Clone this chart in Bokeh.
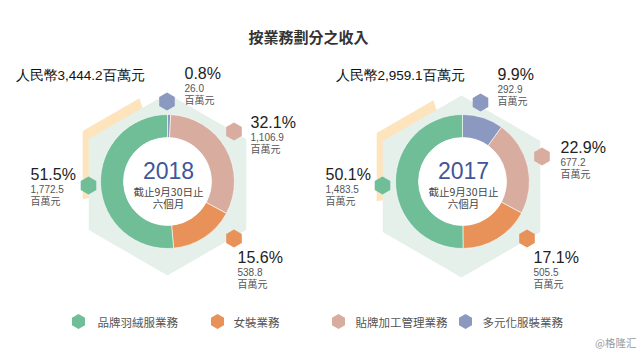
import numpy as np
from bokeh.plotting import figure
from bokeh.models import Range1d, ColumnDataSource
from bokeh.core.properties import value
from bokeh.embed import file_html
from bokeh.resources import INLINE

# ---------------- data ----------------
title = "按業務劃分之收入"
categories = ["品牌羽絨服業務", "女裝業務", "貼牌加工管理業務", "多元化服裝業務"]
years = ["2018", "2017"]
totals = [3444.2, 2959.1]
values_2018 = [1772.5, 538.8, 1106.9, 26.0]
pct_2018 = [51.5, 15.6, 32.1, 0.8]
values_2017 = [1483.5, 505.5, 677.2, 292.9]
pct_2017 = [50.1, 17.1, 22.9, 9.9]
period_line1 = "截止9月30日止"
period_line2 = "六個月"
unit = "百萬元"
watermark = "@格隆汇"

colors = ["#6fbe97", "#e8925a", "#d8ad9f", "#8b99c1"]
MINT = "#e5f0eb"
YELLOW = "#fde4bd"

W, H = 640, 350
LATIN = value("Liberation Sans")
CJK = value("Noto Sans CJK TC")


def sy(y):
    return H - y


p = figure(width=W, height=H, output_backend="svg", toolbar_location=None,
           x_range=Range1d(0, W), y_range=Range1d(0, H),
           min_border=0, outline_line_color=None)
p.axis.visible = False
p.grid.visible = False
p.background_fill_color = "white"
p.border_fill_color = "white"


def hex_pts(cx, cy, r):
    # pointy-top hexagon in screen coords (y down)
    ang = np.deg2rad(np.arange(-90, 270, 60))
    return cx + r * np.cos(ang), cy + r * np.sin(ang)


def text(x, y, s, size, color, font=LATIN, align="left", style="normal"):
    p.text(x=[x], y=[sy(y)], text=[s], text_font=font, text_font_size=f"{size}px",
           text_color=color, text_align=align, text_baseline="middle",
           text_font_style=style)


# title
text(308, 36, title, 15, "#333333", font=CJK, align="center", style="bold")

panels = [
    dict(cx=167, cy=181, hx=167, hy=184, values=values_2018, pct=pct_2018,
         total=totals[0], year=years[0], tx=15,
         markers=[(88, 185), (233.5, 238), (233.5, 131), (166.5, 101)],
         labels=[(30, 174), (237, 257), (250, 122), (184, 73)]),
    dict(cx=462, cy=181, hx=461, hy=186, values=values_2017, pct=pct_2017,
         total=totals[1], year=years[1], tx=335,
         markers=[(382, 185), (526.5, 238), (541.5, 156), (480, 102)],
         labels=[(325, 174), (533, 257), (560, 147), (497, 74)]),
]

R_HEX = 91
R_OUT, R_IN = 67, 44

for pn in panels:
    hx, hy = pn["hx"], pn["hy"]
    # yellow offset band (upper-left)
    ox, oy = hex_pts(hx - 6, hy - 8, R_HEX)
    top, ul, ll = (ox[0], oy[0]), (ox[5], oy[5]), (ox[4], oy[4])
    a = (ul[0] + 0.72 * (top[0] - ul[0]), ul[1] + 0.72 * (top[1] - ul[1]))
    b = (ul[0], ul[1] + 0.75 * (ll[1] - ul[1]))
    yx = [a[0], ul[0], b[0], hx]
    yy = [a[1], ul[1], b[1], hy]
    p.patch(x=yx, y=[sy(v) for v in yy], fill_color=YELLOW, line_color=None)
    # mint hexagon
    mx, my = hex_pts(hx, hy, R_HEX)
    p.patch(x=list(mx), y=[sy(v) for v in my], fill_color=MINT, line_color=None)

    # donut: clockwise from top, order: diversified, OEM, womenswear, down apparel
    order = [3, 2, 1, 0]
    vals = np.array([pn["values"][i] for i in order], dtype=float)
    frac = vals / vals.sum()
    cum = np.concatenate([[0], np.cumsum(frac)])
    start = np.pi / 2 - cum[:-1] * 2 * np.pi
    end = np.pi / 2 - cum[1:] * 2 * np.pi
    src = ColumnDataSource(dict(start=start, end=end,
                                color=[colors[i] for i in order]))
    p.annular_wedge(x=pn["cx"], y=sy(pn["cy"]), inner_radius=R_IN, outer_radius=R_OUT,
                    start_angle="start", end_angle="end", direction="clock",
                    fill_color="color", line_color="white", line_width=0.6, source=src)
    p.circle(x=[pn["cx"]], y=[sy(pn["cy"])], radius=R_IN, fill_color="white", line_color=None)

    # center text
    text(pn["cx"] + 1, 170, pn["year"], 23, "#41569a", align="center")
    text(pn["cx"] + 1, 191, period_line1, 10.5, "#444444", font=CJK, align="center")
    text(pn["cx"] + 1, 203, period_line2, 10.5, "#444444", font=CJK, align="center")

    # total
    text(pn["tx"], 75, f"人民幣{pn['total']:,.1f}{unit}", 13.5, "#111111")

    # markers and labels
    mxs = [m[0] for m in pn["markers"]]
    mys = [sy(m[1]) for m in pn["markers"]]
    p.scatter(x=mxs, y=mys, marker="hex", size=18, angle=np.pi / 2,
              fill_color=colors, line_color=None)
    for i, (lx, ly) in enumerate(pn["labels"]):
        text(lx, ly, f"{pn['pct'][i]}%", 16, "#222222")
        text(lx, ly + 14, f"{pn['values'][i]:,.1f}", 10, "#555555")
        text(lx, ly + 26, unit, 10, "#555555", font=CJK)

# legend
leg_mx = [78, 217, 338, 465]
leg_tx = [97, 233, 355, 482]
p.scatter(x=leg_mx, y=[sy(321)] * 4, marker="hex", size=15, angle=np.pi / 2,
          fill_color=colors, line_color=None)
for i, c in enumerate(categories):
    text(leg_tx[i], 321, c, 11.5, "#555555", font=CJK)

text(636, 342, watermark, 10.5, "#999999", font=CJK, align="right")

open("out.html", "w").write(file_html(p, INLINE))
